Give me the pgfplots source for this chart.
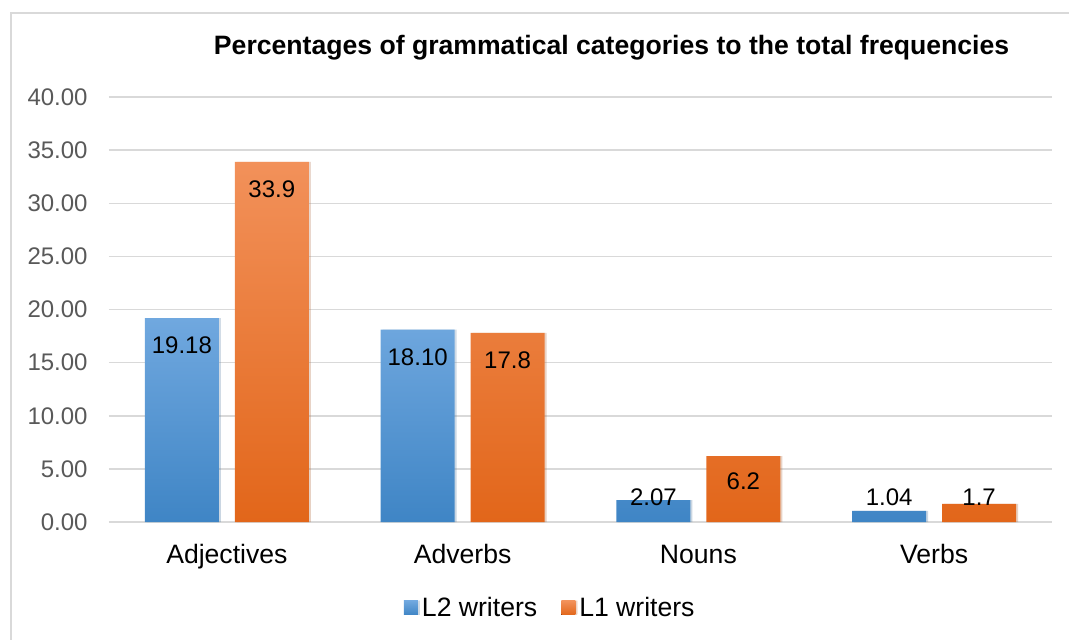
\documentclass[border=0pt]{standalone}
\usepackage{fontspec}
\setmainfont{Liberation Sans}
\usepackage{pgfplots}
\pgfplotsset{compat=1.18}
\usetikzlibrary{shadows}
\definecolor{bluetop}{HTML}{70A8DF}
\definecolor{bluebot}{HTML}{3F85C5}
\definecolor{orgtop}{HTML}{F2915A}
\definecolor{orgbot}{HTML}{E2661A}
\definecolor{gridgray}{HTML}{D9D9D9}
\definecolor{tickgray}{HTML}{595959}
\begin{document}
\begin{tikzpicture}
\begin{axis}[
  at={(54.5pt,-261pt)}, anchor=south west,
  scale only axis,
  width=471.5pt, height=212.5pt,
  xmin=-0.5, xmax=3.5,
  ymin=0, ymax=40,
  ytick={0,5,...,40},
  xtick={0,1,2,3},
  xticklabels={Adjectives,Adverbs,Nouns,Verbs},
  axis line style={draw=none},
  tick style={draw=none},
  ymajorgrids,
  major grid style={gridgray, line width=0.75pt},
  /pgf/number format/assume math mode=true,
  yticklabel={\pgfmathprintnumber[fixed,fixed zerofill,precision=2]{\tick}},
  yticklabel style={anchor=east, inner sep=0pt, xshift=-10.5pt,
    font=\fontsize{12}{14}\selectfont, text=tickgray},
  xticklabel style={anchor=base, inner sep=0pt, yshift=-20.5pt,
    font=\fontsize{13.3}{16}\selectfont},
  title={Percentages of grammatical categories to the total frequencies},
  title style={at={(0.533,1.087)}, anchor=center, inner sep=0pt,
    font=\fontsize{13.3}{16}\selectfont\bfseries},
  legend columns=2,
  legend style={at={(0.469,-0.202)}, anchor=center, draw=none, fill=none,
    font=\fontsize{13.3}{16}\selectfont, inner sep=0pt,
    /tikz/every even column/.append style={column sep=10pt}},
  legend image code/.code={\fill[#1] (0pt,-3.5pt) rectangle (7pt,3.5pt);},
  every node near coord/.append style={anchor=center, inner sep=0pt,
    font=\fontsize{12}{14}\selectfont, text=black},
]
\addplot[ybar, bar width=37pt, bar shift=-22.5pt, draw=none,
  top color=bluetop, bottom color=bluebot,
  drop shadow={shadow xshift=1pt, shadow yshift=0pt, opacity=0.18}]
  coordinates {(0,19.18) (1,18.10) (2,2.07) (3,1.04)};
\addlegendentry{L2 writers}
\addplot[ybar, bar width=37pt, bar shift=22.5pt, draw=none,
  top color=orgtop, bottom color=orgbot,
  drop shadow={shadow xshift=1pt, shadow yshift=0pt, opacity=0.18}]
  coordinates {(0,33.9) (1,17.8) (2,6.2) (3,1.7)};
\addlegendentry{L1 writers}
% value labels
\addplot[draw=none, forget plot, nodes near coords, point meta=explicit symbolic]
  table[meta=label] {
x y label
-0.1907 16.6 19.18
0.8093 15.5 18.10
1.8093 2.35 2.07
2.8093 2.35 1.04
0.1907 31.3 33.9
1.1907 15.2 17.8
2.1907 3.8 6.2
3.1907 2.35 1.7
};
\end{axis}
\draw[gridgray, line width=0.75pt] (5.5pt,-6.5pt) rectangle (560pt,-340pt);
\pgfresetboundingbox
\useasboundingbox (0pt,0pt) rectangle (534.5pt,-319.5pt);
\end{tikzpicture}
\end{document}
